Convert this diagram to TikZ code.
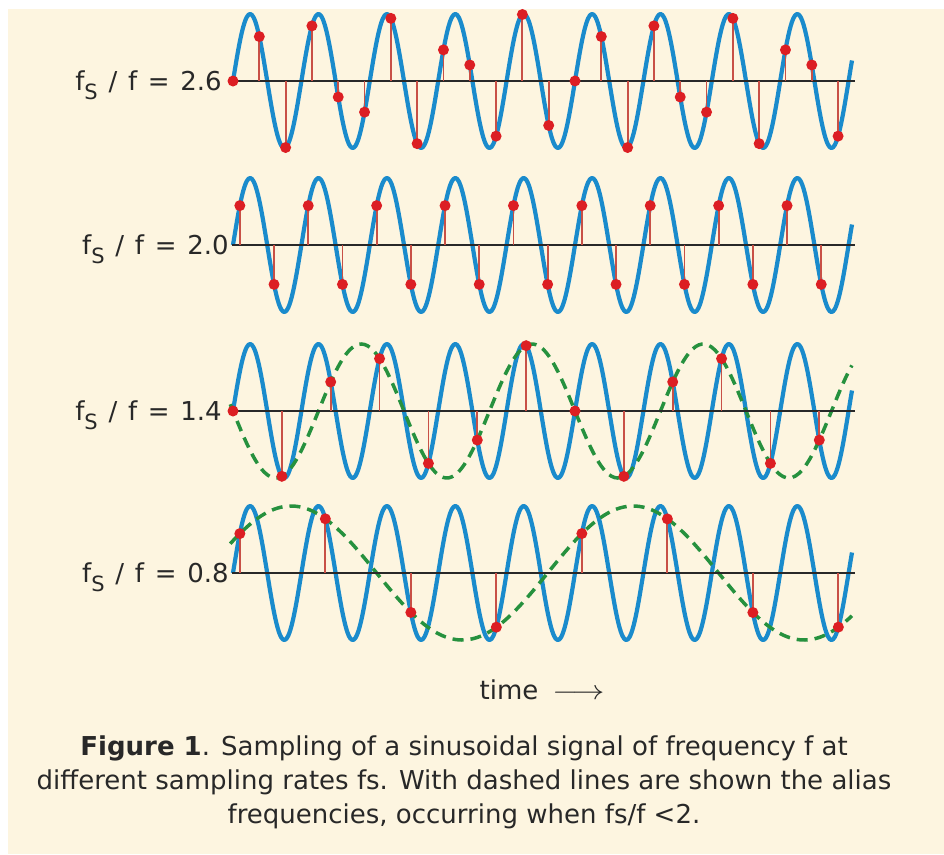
\documentclass[tikz,border=0pt]{standalone}
\usepackage{fontspec}
\setmainfont{DejaVu Sans}
\newfontfamily\ratiofont{DejaVu Sans}[WordSpace=1.3]
\usetikzlibrary{positioning}
\definecolor{bgcream}{RGB}{253,245,224}
\definecolor{sigblue}{RGB}{26,139,204}
\definecolor{dotred}{RGB}{220,30,35}
\definecolor{stemred}{RGB}{200,80,70}
\definecolor{aliasgreen}{RGB}{38,145,62}
\definecolor{textgray}{RGB}{40,40,40}

\begin{document}
\begin{tikzpicture}[
    x=1pt, y=-1pt,
    signal/.style={sigblue, line width=4.2pt, line join=round},
    alias/.style={aliasgreen, line width=3.5pt, dash pattern=on 11pt off 7pt},
    axisline/.style={textgray, line width=2.4pt},
    stem/.style={stemred, line width=1.8pt},
    sample/.style={circle, fill=dotred, inner sep=0pt, minimum size=11pt},
    ratio/.style={text=textgray, font=\ratiofont\fontsize{26}{26}\selectfont,
        text height=18pt, text depth=0pt, inner sep=0pt},
    caption/.style={text=textgray, align=center, font=\fontsize{26}{34}\selectfont}
]
\useasboundingbox (0,0) rectangle (944,854);
\fill[white] (0,0) rectangle (944,854);
\fill[bgcream] (8,9) rectangle (944,854);

\foreach \r/\ry in {1/81, 2/245, 3/411, 4/573}{
  \draw[signal] plot[domain=0:9.05, samples=360, smooth] ({233+68.4*\x}, {\ry-67*sin(360*\x)});
}
\draw[alias] plot[domain=-0.04:9.05, samples=200, smooth] ({233+68.4*\x}, {411+67*sin(144*\x)});
\draw[alias] plot[domain=-0.04:9.05, samples=200, smooth] ({233+68.4*\x}, {573-67*sin(72*\x+28.8)});

\foreach \r/\ry/\rate/\off/\last in {1/81/2.6/0/23, 2/245/2.0/0.1/17, 3/411/1.4/0/12, 4/573/0.8/0.1/7}{
  \coordinate (a\r) at (232,\ry);
  \coordinate (b\r) at (855,\ry);
  \draw[axisline] (a\r) -- (b\r);
  \foreach \n in {0,...,\last}{
    \pgfmathsetmacro\tn{\off+\n/\rate}
    \coordinate (z\r-\n) at ({233+68.4*\tn}, \ry);
    \coordinate (p\r-\n) at ({233+68.4*\tn}, {\ry-67*sin(360*\tn)});
    \draw[stem] (z\r-\n) -- (p\r-\n);
    \node[sample] (s\r-\n) at (p\r-\n) {};
  }
  \node[ratio, left=11pt of z\r-0] (lab\r) {f\raisebox{-9pt}{\fontsize{21}{21}\selectfont S} / f = \rate};
}

\node[text=textgray, font=\fontsize{26}{26}\selectfont] (time) at (542,690)
    {time\hspace{14pt}\scalebox{1.3}[1.1]{$\longrightarrow$}};
\node[caption] (cap) at (464,782)
    {\textbf{Figure 1}. Sampling of a sinusoidal signal of frequency f at\\
     different sampling rates fs. With dashed lines are shown the alias\\
     frequencies, occurring when fs/f <2.};
\end{tikzpicture}
\end{document}
